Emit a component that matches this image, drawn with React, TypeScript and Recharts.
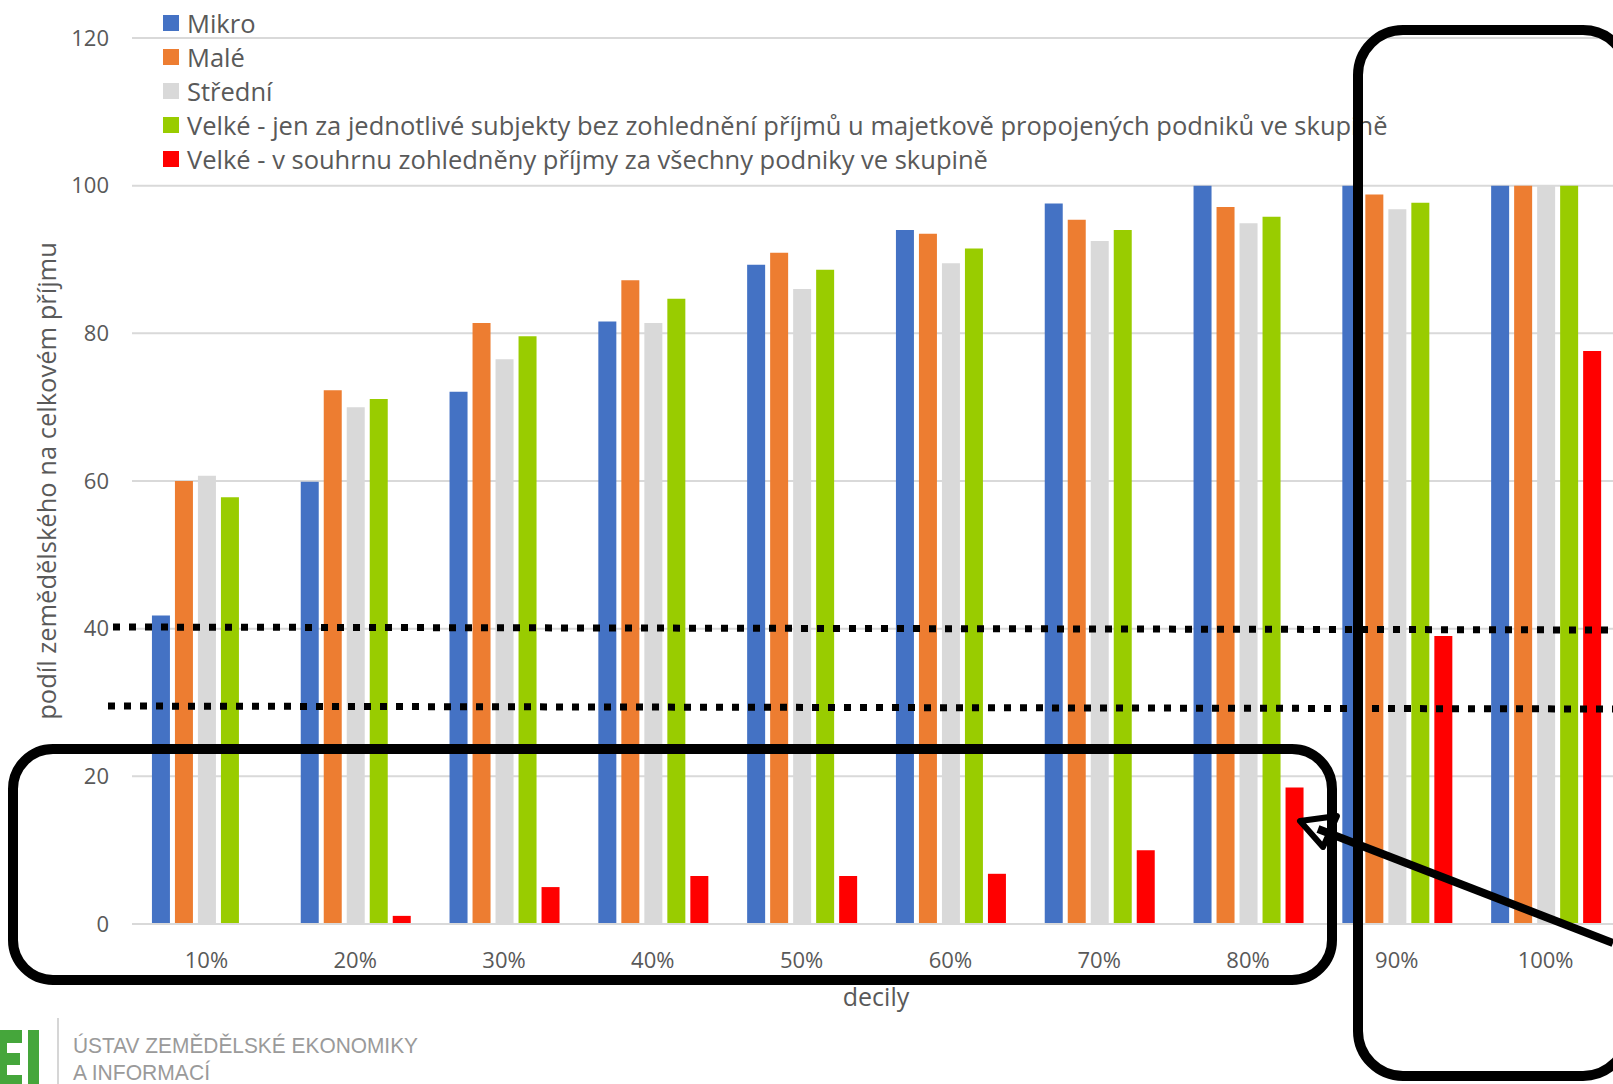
import React from "react";
import {
  BarChart,
  Bar,
  XAxis,
  YAxis,
  CartesianGrid,
  Legend,
} from "recharts";

// decile labels and the five series
const deciles = ["10%", "20%", "30%", "40%", "50%", "60%", "70%", "80%", "90%", "100%"];
const mikro = [41.8, 59.9, 72.1, 81.6, 89.3, 94.0, 97.6, 100, 100, 100];
const male = [60.0, 72.3, 81.4, 87.2, 90.9, 93.5, 95.4, 97.1, 98.8, 100];
const stredni = [60.7, 70.0, 76.5, 81.4, 86.0, 89.5, 92.5, 94.9, 96.8, 100];
const velkeJen = [57.8, 71.1, 79.6, 84.7, 88.6, 91.5, 94.0, 95.8, 97.7, 100];
const velkeSouhrn = [0, 1.1, 5.0, 6.5, 6.5, 6.8, 10.0, 18.5, 39.0, 77.6];
const yTicks = [0, 20, 40, 60, 80, 100, 120];

const series = [
  { key: "mikro", name: "Mikro", color: "#4472C4" },
  { key: "male", name: "Malé", color: "#ED7D31" },
  { key: "stredni", name: "Střední", color: "#D9D9D9" },
  {
    key: "velkeJen",
    name: "Velké - jen za jednotlivé subjekty bez zohlednění příjmů u majetkově propojených podniků ve skupině",
    color: "#99CC00",
  },
  {
    key: "velkeSouhrn",
    name: "Velké - v souhrnu zohledněny příjmy za všechny podniky ve skupině",
    color: "#FF0000",
  },
];

const chartData = deciles.map((decile, i) => ({
  decile,
  mikro: mikro[i],
  male: male[i],
  stredni: stredni[i],
  velkeJen: velkeJen[i],
  velkeSouhrn: velkeSouhrn[i],
}));

const FONT = "'Open Sans', sans-serif";
const TEXT = "#595959";

const LegendBox = () => (
  <div style={{ fontFamily: FONT, fontSize: 25.5, color: TEXT }}>
    {series.map((s) => (
      <div key={s.key} style={{ display: "flex", alignItems: "center", height: 34, whiteSpace: "nowrap" }}>
        <span style={{ width: 16, height: 16, background: s.color, marginRight: 8, display: "inline-block" }} />
        <span>{s.name}</span>
      </div>
    ))}
  </div>
);

const YLabel = (props: any) => {
  const vb = props.viewBox || { x: 0, y: 0, width: 0, height: 0 };
  const x = vb.x + 56;
  const y = vb.y + vb.height / 2;
  return (
    <text
      x={x}
      y={y}
      transform={`rotate(-90 ${x} ${y})`}
      textAnchor="middle"
      fill={TEXT}
      fontSize={25.5}
      fontFamily={FONT}
    >
      podíl zemědělského na celkovém příjmu
    </text>
  );
};

const XLabel = (props: any) => {
  const vb = props.viewBox || { x: 0, y: 0, width: 0, height: 0 };
  return (
    <text
      x={vb.x + vb.width / 2}
      y={vb.y + 82}
      textAnchor="middle"
      fill={TEXT}
      fontSize={25}
      fontFamily={FONT}
    >
      decily
    </text>
  );
};

// hand-drawn annotations that sit on top of the chart
const Annotations = () => (
  <svg
    width={1613}
    height={1084}
    style={{ position: "absolute", left: 0, top: 0, pointerEvents: "none" }}
  >
    <line x1={113} y1={627} x2={1613} y2={630} stroke="#000" strokeWidth={7} strokeDasharray="7 9" />
    <line x1={108} y1={706} x2={1613} y2={709} stroke="#000" strokeWidth={7} strokeDasharray="7 9" />
    <rect x={13} y={749} width={1319} height={231} rx={40} fill="none" stroke="#000" strokeWidth={10} />
    <rect x={1358} y={30} width={270} height={1046} rx={45} fill="none" stroke="#000" strokeWidth={10} />
    <line x1={1613} y1={943} x2={1318} y2={829} stroke="#000" strokeWidth={8} />
    <polygon points="1300,821 1337,816 1323,847" fill="none" stroke="#000" strokeWidth={6} strokeLinejoin="round" />
    {/* logo */}
    <g fill="#45A63B">
      <rect x={0} y={1030} width={7} height={60} />
      <rect x={0} y={1030} width={22} height={13} />
      <rect x={0} y={1053} width={20} height={12} />
      <rect x={0} y={1075} width={22} height={13} />
      <rect x={28} y={1030} width={11} height={60} />
    </g>
    <line x1={58} y1={1018} x2={58} y2={1084} stroke="#C8C8C8" strokeWidth={1.5} />
    <text x={73} y={1053} fontSize={22} fontFamily="'Liberation Sans', Arial, sans-serif" fill="#9A9A9A" textLength={345} lengthAdjust="spacingAndGlyphs">
      ÚSTAV ZEMĚDĚLSKÉ EKONOMIKY
    </text>
    <text x={73} y={1080} fontSize={22} fontFamily="'Liberation Sans', Arial, sans-serif" fill="#9A9A9A" textLength={137} lengthAdjust="spacingAndGlyphs">
      A INFORMACÍ
    </text>
  </svg>
);

export default function App() {
  return (
    <div
      style={{
        position: "absolute",
        left: 0,
        top: 0,
        width: 1613,
        height: 1084,
        overflow: "hidden",
        background: "#fff",
      }}
    >
      <BarChart
        width={1640}
        height={1084}
        data={chartData}
        margin={{ top: 38, right: 20, bottom: 60, left: 0 }}
        barCategoryGap="13.4%"
        barGap={5}
      >
        <CartesianGrid vertical={false} stroke="#D9D9D9" strokeWidth={2} />
        <XAxis
          dataKey="decile"
          height={100}
          axisLine={{ stroke: "#D9D9D9", strokeWidth: 2 }}
          tickLine={false}
          tickSize={0}
          tickMargin={28}
          tick={{ fill: TEXT, fontSize: 22, fontFamily: FONT }}
          label={<XLabel />}
        />
        <YAxis
          width={132}
          domain={[0, 120]}
          ticks={yTicks}
          axisLine={false}
          tickLine={false}
          tickSize={0}
          tickMargin={23}
          tick={{ fill: TEXT, fontSize: 22, fontFamily: FONT }}
          label={<YLabel />}
        />
        <Legend
          layout="horizontal"
          align="center"
          verticalAlign="middle"
          content={<LegendBox />}
          wrapperStyle={{ left: 163, top: 6, width: "auto", height: "auto" }}
        />
        {series.map((s) => (
          <Bar key={s.key} dataKey={s.key} name={s.name} fill={s.color} isAnimationActive={false} />
        ))}
      </BarChart>
      <Annotations />
    </div>
  );
}
